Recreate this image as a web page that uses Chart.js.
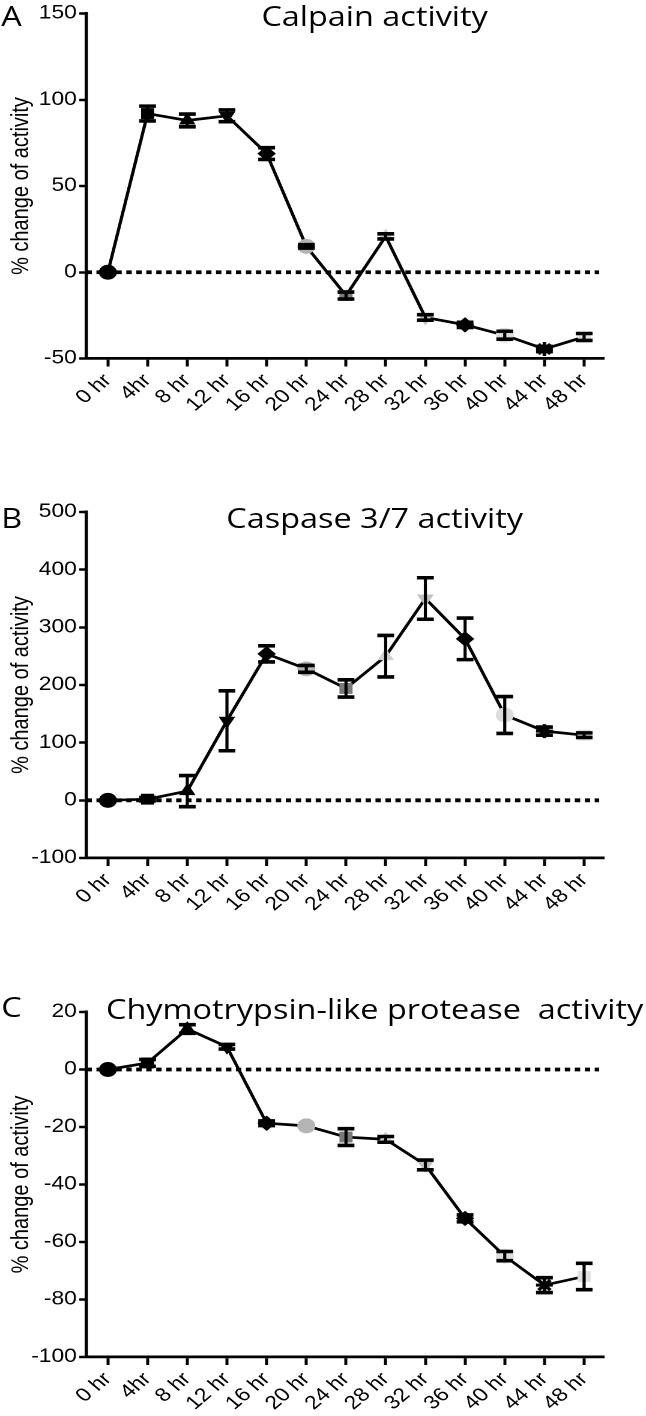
<!DOCTYPE html>
<html>
<head>
<meta charset="utf-8">
<script src="https://cdn.jsdelivr.net/npm/chart.js@4.4.1/dist/chart.umd.min.js"></script>
<style>
  body { margin: 0; background: #fff; overflow: hidden; }
  /* the original figure is stretched sideways, so the whole page is too */
  #page { position: relative; width: 538px; height: 1416px; transform: scaleX(1.2007); transform-origin: 0 0; }
  canvas { position: absolute; left: 0; }
  .title { position: absolute; left: 312px; transform: translateX(-50%); font-family: "Open Sans", sans-serif; font-size: 27px; line-height: 27px; white-space: pre; color: #000; }
  .letter { position: absolute; left: 1px; font-family: "Open Sans", sans-serif; font-size: 27px; line-height: 27px; color: #000; }
</style>
</head>
<body>
<div id="page">
  <div class="letter" style="top:2px">A</div>
  <div class="title" style="top:2px">Calpain activity</div>
  <canvas id="chartA" width="538" height="450" style="top:0px"></canvas>

  <div class="letter" style="top:504px">B</div>
  <div class="title" style="top:504px">Caspase 3/7 activity</div>
  <canvas id="chartB" width="538" height="470" style="top:470px"></canvas>

  <div class="letter" style="top:993px">C</div>
  <div class="title" style="top:995px">Chymotrypsin-like protease  activity</div>
  <canvas id="chartC" width="538" height="446" style="top:970px"></canvas>
</div>

<script>
const timeLabels = ["0 hr", "4hr", "8 hr", "12 hr", "16 hr", "20 hr", "24 hr", "28 hr", "32 hr", "36 hr", "40 hr", "44 hr", "48 hr"];

const calpainMean = [0, 92, 88, 90.7, 68.8, 15, -13.5, 20.8, -26.2, -30.5, -36.5, -44.5, -37.5];
const calpainErr  = [0, 4.3, 3.7, 3.4, 3.4, 1, 2, 1.5, 1.6, 1.5, 2.3, 1.5, 2];
const calpainTicks = [-50, 0, 50, 100, 150];

const caspaseMean = [0, 2, 16, 138, 254, 228, 194, 250, 350, 280, 148, 120, 113];
const caspaseErr  = [0, 3, 27, 52, 14, 6, 15, 36, 36, 36, 32, 7, 4];
const caspaseTicks = [-100, 0, 100, 200, 300, 400, 500];

const chymoMean = [0, 2.3, 14.1, 7.9, -18.7, -19.6, -23.5, -24.3, -33.2, -51.8, -64.9, -75, -72];
const chymoErr  = [0, 1.2, 1.5, 0.8, 0.8, 0, 2.9, 1, 1.7, 1.2, 1.6, 2.6, 4.6];
const chymoTicks = [-100, -80, -60, -40, -20, 0, 20];

// one symbol per time point, same in all three panels (Prism style)
const markerStyles = ["circle", "rect", "triangle", "triangle", "rectRot", "circle", "rect", "triangle", "triangle", "rectRot", "circle", "star", "rect"];
const markerRotation = [0, 0, 0, 180, 0, 0, 0, 0, 180, 0, 0, 0, 0];
const markerColors = ["#000", "#000", "#000", "#000", "#000", "#b4b4b4", "#7a7a7a", "#d0d0d0", "#c0c0c0", "#000", "#dcdcdc", "#000", "#e0e0e0"];

const errorBars = {
  id: "errorBars",
  afterDatasetsDraw(chart) {
    const ctx = chart.ctx;
    const y = chart.scales.y;
    chart.data.datasets.forEach((ds, di) => {
      if (!ds.errors) return;
      chart.getDatasetMeta(di).data.forEach((pt, i) => {
        const e = ds.errors[i];
        if (!e) return;
        const v = ds.data[i].y;
        const top = y.getPixelForValue(v + e);
        const bot = y.getPixelForValue(v - e);
        ctx.save();
        ctx.strokeStyle = "#000";
        ctx.lineWidth = 2.6;
        ctx.beginPath();
        ctx.moveTo(pt.x, top);
        ctx.lineTo(pt.x, bot);
        ctx.stroke();
        ctx.lineWidth = 3.6;
        ctx.beginPath();
        ctx.moveTo(pt.x - 7, top); ctx.lineTo(pt.x + 7, top);
        ctx.moveTo(pt.x - 7, bot); ctx.lineTo(pt.x + 7, bot);
        ctx.stroke();
        ctx.restore();
      });
    });
  }
};

const tickFont = { family: "'Liberation Sans', Arial, sans-serif", size: 19 };

function makeChart(id, mean, err, yTicks, padTop, xHeight) {
  const ctx = document.getElementById(id).getContext("2d");
  return new Chart(ctx, {
    type: "line",
    data: {
      datasets: [{
        data: mean.map((v, i) => ({ x: i, y: v })),
        errors: err,
        borderColor: "#000",
        borderWidth: 2.7,
        tension: 0,
        pointStyle: markerStyles,
        pointRotation: markerRotation,
        pointRadius: 7,
        pointBackgroundColor: markerColors,
        pointBorderColor: markerColors,
        pointBorderWidth: markerStyles.map(s => s === "star" ? 3 : 1),
        order: 1
      }, {
        // dotted zero line
        data: [{ x: -0.54, y: 0 }, { x: 12.38, y: 0 }],
        borderColor: "#000",
        borderWidth: 3.8,
        borderDash: [4.5, 3.8],
        pointRadius: 0,
        order: 2
      }]
    },
    options: {
      responsive: false,
      animation: false,
      devicePixelRatio: 2,
      layout: { padding: { top: padTop, right: 35, left: 0, bottom: 0 } },
      plugins: { legend: { display: false }, tooltip: { enabled: false } },
      scales: {
        x: {
          type: "linear",
          min: -0.54,
          max: 12.5,
          afterBuildTicks: s => { s.ticks = timeLabels.map((_, i) => ({ value: i })); },
          afterFit: s => { s.height = xHeight; },
          grid: { drawOnChartArea: false, tickLength: 8, tickWidth: 2.5, tickColor: "#000" },
          border: { color: "#000", width: 2.7 },
          ticks: {
            autoSkip: false, minRotation: 45, maxRotation: 45, padding: 3,
            color: "#000", font: tickFont,
            callback: (v, i) => timeLabels[i]
          }
        },
        y: {
          min: yTicks[0],
          max: yTicks[yTicks.length - 1],
          afterBuildTicks: s => { s.ticks = yTicks.map(v => ({ value: v })); },
          afterFit: s => { s.width = 72; },
          grid: { drawOnChartArea: false, tickLength: 6, tickWidth: 2.5, tickColor: "#000" },
          border: { color: "#000", width: 2.7 },
          ticks: { padding: 2, color: "#000", font: tickFont },
          title: {
            display: true,
            text: "% change of activity",
            color: "#000",
            font: { family: "'Liberation Sans', Arial, sans-serif", size: 20 },
            padding: { top: 6, bottom: 0 }
          }
        }
      }
    },
    plugins: [errorBars]
  });
}

makeChart("chartA", calpainMean, calpainErr, calpainTicks, 13.5, 91.5);
makeChart("chartB", caspaseMean, caspaseErr, caspaseTicks, 42, 82);
makeChart("chartC", chymoMean, chymoErr, chymoTicks, 42, 59);
</script>
</body>
</html>
